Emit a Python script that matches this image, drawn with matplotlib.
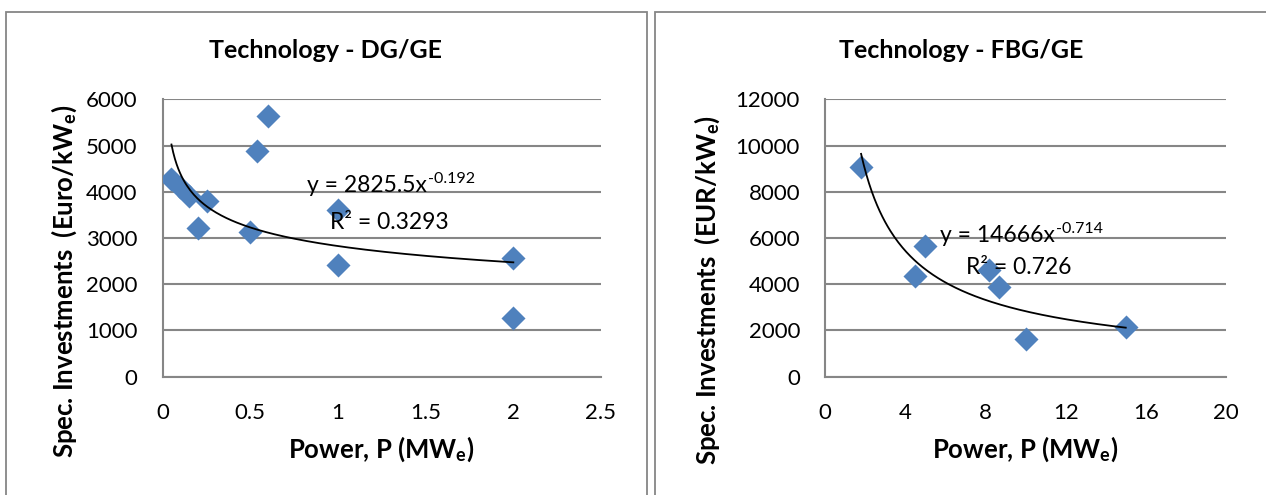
import numpy as np
import matplotlib
matplotlib.use('Agg')
import matplotlib.pyplot as plt
from matplotlib.patches import Rectangle

plt.rcParams['font.family'] = ['Lato', 'DejaVu Sans']
plt.rcParams['mathtext.fontset'] = 'custom'
plt.rcParams['mathtext.rm'] = 'Lato'
plt.rcParams['mathtext.bf'] = 'Lato:bold'
plt.rcParams['mathtext.it'] = 'Lato:italic'

# DG/GE data (power in MWe, spec. investment in Euro/kWe)
dg_power = [0.05, 0.1, 0.15, 0.2, 0.25, 0.5, 0.54, 0.6, 1.0, 1.0, 2.0, 2.0]
dg_invest = [4270, 4110, 3910, 3220, 3800, 3140, 4880, 5630, 3600, 2420, 2560, 1270]
dg_coef, dg_exp, dg_r2 = 2825.5, -0.192, '0.3293'

# FBG/GE data
fbg_power = [1.8, 4.5, 5.0, 8.2, 8.7, 10.0, 15.0]
fbg_invest = [9060, 4370, 5650, 4610, 3890, 1620, 2160]
fbg_coef, fbg_exp, fbg_r2 = 14666, -0.714, '0.726'

W, H = 1266, 495
fig = plt.figure(figsize=(W / 100, H / 100), dpi=100)

blue = '#4F81BD'
grid_col = '#868686'

# chart area borders
fig.add_artist(Rectangle((6 / W, -0.05), 641 / W, 1.05 - 12 / H, transform=fig.transFigure,
                         fill=False, ec=grid_col, lw=1.3))
fig.add_artist(Rectangle((655 / W, -0.05), 0.5, 1.05 - 12 / H, transform=fig.transFigure,
                         fill=False, ec=grid_col, lw=1.3))


def make_panel(rect, x, y, coef, expo, r2, xlim, xticks, ylim, yticks, title, ylabel,
               eq_pos, r2_pos, title_x, xlab_x, ylab_xy):
    ax = fig.add_axes(rect)
    ax.set_xlim(*xlim)
    ax.set_ylim(*ylim)
    ax.set_xticks(xticks)
    ax.set_yticks(yticks)
    ax.set_xticklabels([f'{t:g}' for t in xticks])
    ax.set_yticklabels([f'{t:g}' for t in yticks])
    ax.grid(axis='y', color=grid_col, lw=1.5)
    ax.set_axisbelow(True)
    for s in ['top', 'right']:
        ax.spines[s].set_visible(False)
    for s in ['left', 'bottom']:
        ax.spines[s].set_color(grid_col)
        ax.spines[s].set_linewidth(1.5)
    ax.tick_params(length=0, labelsize=16, colors='black')
    ax.tick_params(axis='y', pad=18)
    ax.tick_params(axis='x', pad=19)

    ax.scatter(x, y, marker='D', s=150, color=blue, zorder=3, linewidths=0)
    xs = np.linspace(min(x), max(x), 200)
    ax.plot(xs, coef * xs ** expo, color='black', lw=1.3, zorder=4)

    # trendline equation, exponent as a small raised text
    eq = fig.text(eq_pos[0] / W, 1 - eq_pos[1] / H, f'y = {coef:g}x', fontsize=16.5,
                  ha='left', va='baseline', zorder=5)
    fig.canvas.draw()
    bb = eq.get_window_extent()
    fig.text((bb.x1 + 1) / W, 1 - (eq_pos[1] - 9) / H, f'{expo:g}', fontsize=11.5,
             ha='left', va='baseline', zorder=5)
    fig.text(r2_pos[0] / W, 1 - r2_pos[1] / H, f'R² = {r2}', fontsize=16.5, ha='left',
             va='baseline', zorder=5)

    fig.text(title_x / W, 1 - 51 / H, title, fontsize=18, fontweight='bold',
             ha='center', va='center')
    fig.text(xlab_x / W, 1 - 449 / H, r'Power, P (MW$_\mathbf{e}$)', fontsize=18.5,
             fontweight='bold', ha='center', va='center')
    fig.text(ylab_xy[0] / W, 1 - ylab_xy[1] / H, ylabel, fontsize=18.5, fontweight='bold',
             ha='center', va='center', rotation=90)
    return ax


make_panel([162.7 / W, 1 - 376.7 / H, (601 - 162.7) / W, 277.4 / H],
           dg_power, dg_invest, dg_coef, dg_exp, dg_r2,
           (0, 2.5), [0, 0.5, 1, 1.5, 2, 2.5], (0, 6000), range(0, 6001, 1000),
           'Technology - DG/GE', r'Spec. Investments  (Euro/kW$_\mathbf{e}$)',
           (307, 192), (330, 229), 326, 381, (64, 281))

make_panel([825 / W, 1 - 376.7 / H, (1226 - 825) / W, 277.4 / H],
           fbg_power, fbg_invest, fbg_coef, fbg_exp, fbg_r2,
           (0, 20), [0, 4, 8, 12, 16, 20], (0, 12000), range(0, 12001, 2000),
           'Technology - FBG/GE', r'Spec. Investments  (EUR/kW$_\mathbf{e}$)',
           (940, 242), (966, 274), 961, 1025, (707, 290))

fig.savefig('out.png', dpi=100)
